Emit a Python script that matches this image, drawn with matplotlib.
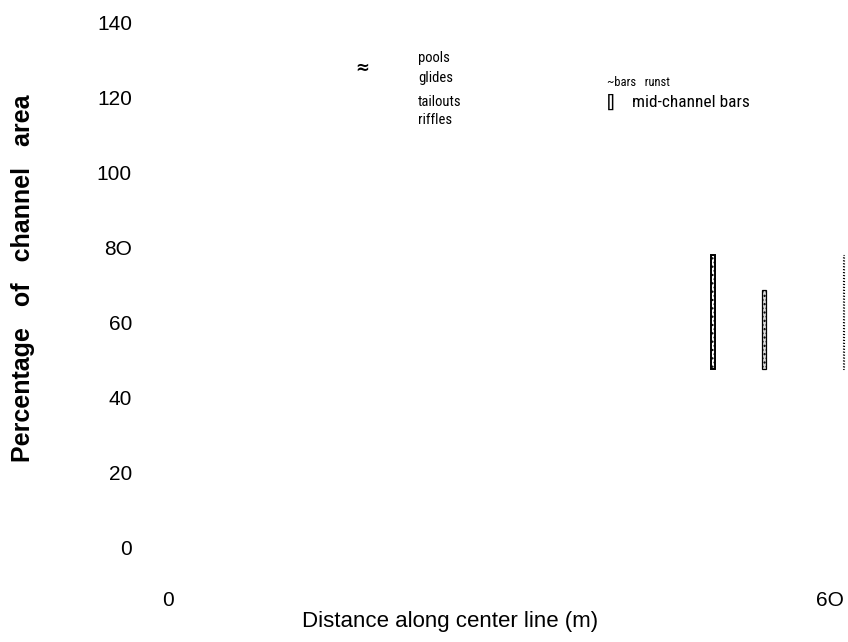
import matplotlib
matplotlib.use('Agg')
import matplotlib.pyplot as plt

# data
bar_x = [49.4, 54.0, 61.2]
bar_bottom = [47.5, 47.5, 47.5]
bar_top = [78.0, 68.5, 78.0]
ytick_vals = [0, 20, 40, 60, 80, 100, 120, 140]
ytick_labels = ['0', '20', '40', '60', '8O', '100', '120', '140']
xtick_vals = [0, 60]
xtick_labels = ['0', '6O']
legend_left = ['pools', 'glides', 'tailouts', 'riffles']
legend_left_y = [130.4, 125.1, 118.8, 113.9]

plt.rcParams['font.family'] = ['Liberation Sans', 'DejaVu Sans']
narrow = ['Roboto Condensed', 'Liberation Sans', 'DejaVu Sans']

W, H = 848, 642
fig = plt.figure(figsize=(W / 100, H / 100), dpi=100)
# axes placed in pixel terms: left 150, right 848, top 10, bottom 585
ax = fig.add_axes([150 / W, 1 - 585 / H, (848 - 150) / W, (585 - 10) / H])
ax.set_xlim(-1.63, 61.63)
ax.set_ylim(-10.13, 143.2)
for s in ax.spines.values():
    s.set_visible(False)

heights = [t - b for t, b in zip(bar_top, bar_bottom)]
ax.bar(bar_x[0], heights[0], bottom=bar_bottom[0], width=0.33,
       facecolor='white', edgecolor='black', hatch='....', linewidth=1.4)
ax.bar(bar_x[1], heights[1], bottom=bar_bottom[1], width=0.4,
       facecolor='#dddddd', edgecolor='black', hatch='....', linewidth=0.9)
ax.bar(bar_x[2], heights[2], bottom=bar_bottom[2], width=0.1,
       facecolor='white', edgecolor='black', linestyle=':', linewidth=0.8)

ax.set_yticks(ytick_vals)
ax.set_yticklabels(ytick_labels, fontsize=15)
ax.set_xticks(xtick_vals)
ax.set_xticklabels(xtick_labels, fontsize=15)
ax.tick_params(axis='y', length=0, pad=13)
ax.tick_params(axis='x', length=0, pad=4)

fig.text(23 / W, 1 - 278 / H, 'Percentage   of   channel   area', rotation=90,
         fontsize=18, fontweight='bold', ha='center', va='center')
fig.text(450 / W, 1 - 622 / H, 'Distance along center line (m)',
         fontsize=16, ha='center', va='center')

# legend-ish labels
ax.text(17.6, 127.7, '≈', fontsize=12, fontweight='bold', ha='center', va='center',
        family='DejaVu Sans')
for lab, y in zip(legend_left, legend_left_y):
    ax.text(22.66, y, lab, fontsize=10.5, ha='left', va='center', family=narrow)
ax.text(39.8, 123.9, '~bars   runst', fontsize=9, ha='left', va='center', family=narrow)
ax.text(39.8, 118.6, '[]', fontsize=12.5, ha='left', va='center', family=narrow)
ax.text(42.05, 118.6, 'mid-channel bars', fontsize=12.5, ha='left', va='center', family=narrow)

fig.savefig('out.png', dpi=100)
